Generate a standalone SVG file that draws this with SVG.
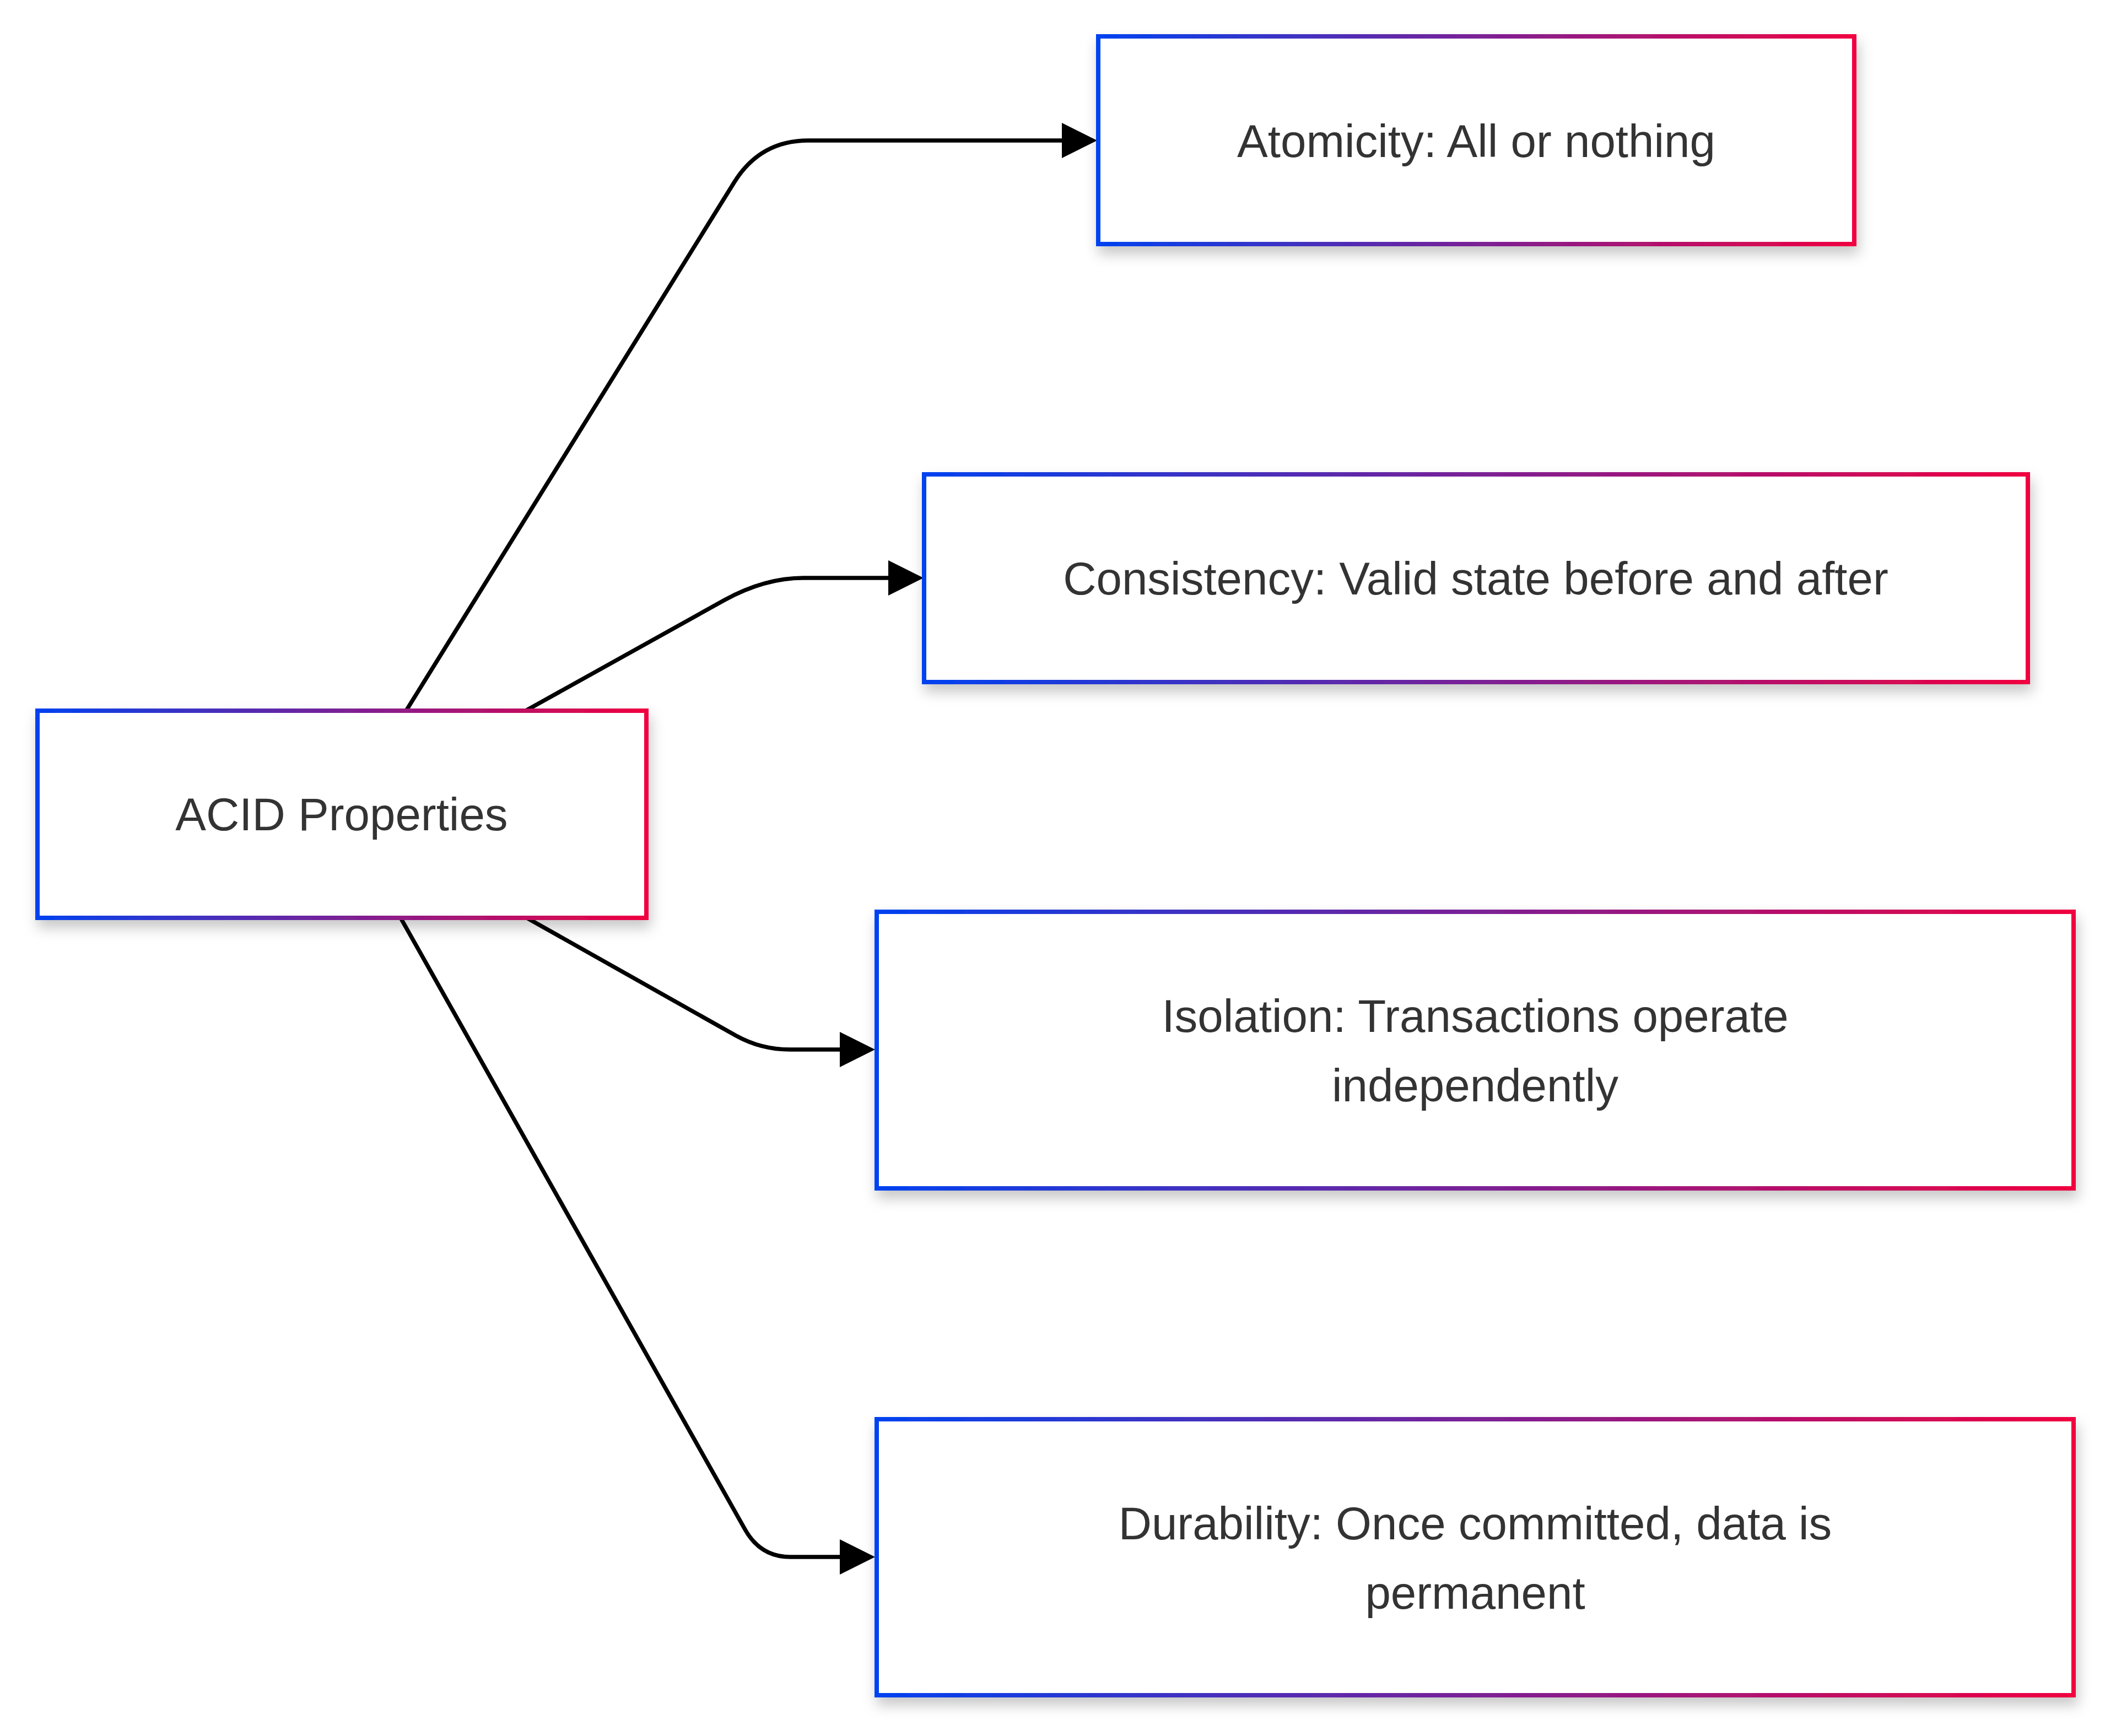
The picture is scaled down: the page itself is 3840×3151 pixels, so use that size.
<svg xmlns="http://www.w3.org/2000/svg" width="3840" height="3151" viewBox="0 0 3840 3151">
<defs>
<linearGradient id="borderGrad" x1="0" y1="0" x2="1" y2="0">
<stop offset="0" stop-color="#0042f0"/>
<stop offset="0.5" stop-color="#7a2196"/>
<stop offset="1" stop-color="#f00040"/>
</linearGradient>
<filter id="shadow" x="-10%" y="-20%" width="120%" height="150%">
<feDropShadow dx="4" dy="14" stdDeviation="12" flood-color="#000" flood-opacity="0.22"/>
</filter>
<marker id="arrow" viewBox="0 0 10 10" refX="0" refY="5" markerUnits="userSpaceOnUse" markerWidth="64" markerHeight="66" orient="auto">
<path d="M0,0 L10,5 L0,10 z" fill="#000"/>
</marker>
</defs>
<style>
.node rect { fill: #ffffff; stroke: url(#borderGrad); stroke-width: 8; filter: url(#shadow); }
.node text { font-family: "Liberation Sans", Arial, sans-serif; font-size: 83.5px; fill: #333333; text-anchor: middle; }
.edge { fill: none; stroke: #000000; stroke-width: 7.5; marker-end: url(#arrow); }
</style>
<rect x="0" y="0" width="3840" height="3151" fill="#ffffff"/>
<g id="connectors">
<path class="edge" d="M737,1290 L1333,330 Q1380,255 1467,255 L1927,255"/>
<path class="edge" d="M954,1290 L1315,1089 Q1388,1049 1458,1049 L1612,1049"/>
<path class="edge" d="M956,1666 L1336,1880 Q1381,1905 1434,1905 L1524,1905"/>
<path class="edge" d="M727,1666 L1352,2776 Q1380,2826 1434,2826 L1524,2826"/>
</g>
<g id="node-acid" class="node">
<rect x="68" y="1290" width="1105" height="376"/>
<text x="620" y="1507">ACID Properties</text>
</g>
<g id="node-atomicity" class="node">
<rect x="1993" y="66" width="1372" height="377"/>
<text x="2679" y="285">Atomicity: All or nothing</text>
</g>
<g id="node-consistency" class="node">
<rect x="1677" y="861" width="2003" height="377"/>
<text x="2678" y="1079">Consistency: Valid state before and after</text>
</g>
<g id="node-isolation" class="node">
<rect x="1591" y="1655" width="2172" height="502"/>
<text x="2677" y="1873">Isolation: Transactions operate</text>
<text x="2677" y="1999">independently</text>
</g>
<g id="node-durability" class="node">
<rect x="1591" y="2576" width="2172" height="501"/>
<text x="2677" y="2794">Durability: Once committed, data is</text>
<text x="2677" y="2920">permanent</text>
</g>
</svg>
